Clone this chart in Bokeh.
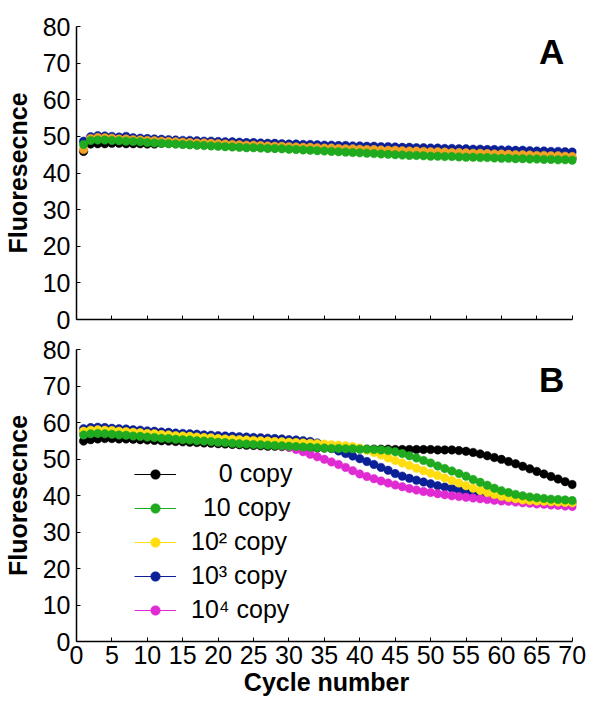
from bokeh.plotting import figure
from bokeh.models import Range1d, FixedTicker, Legend, LegendItem, Label
from bokeh.layouts import column
from bokeh.embed import file_html
from bokeh.resources import INLINE

# ---------------- data ----------------
cycles = list(range(1, 71))
x_ticks = [0, 5, 10, 15, 20, 25, 30, 35, 40, 45, 50, 55, 60, 65, 70]
y_ticks = [0, 10, 20, 30, 40, 50, 60, 70, 80]

# Panel A
a_black = [45.9, 47.9, 48.0, 48.0, 48.1, 48.1, 48.0, 48.0, 48.0, 47.9,
           47.9, 48.1, 48.1, 48.0, 47.9, 47.8, 47.7, 47.7, 47.6, 47.5,
           47.4, 47.3, 47.2, 47.1, 47.1, 47.0, 46.9, 46.8, 46.8, 46.7,
           46.6, 46.5, 46.5, 46.4, 46.3, 46.3, 46.2, 46.1, 46.1, 46.0,
           45.9, 45.9, 45.8, 45.7, 45.7, 45.6, 45.5, 45.5, 45.4, 45.3,
           45.3, 45.2, 45.1, 45.1, 45.0, 44.9, 44.9, 44.8, 44.7, 44.7,
           44.6, 44.5, 44.5, 44.4, 44.3, 44.3, 44.2, 44.2, 44.1, 44.0]
a_blue = [48.7, 49.9, 50.2, 50.1, 50.0, 49.8, 50.0, 49.6, 49.5, 49.4,
          49.3, 49.2, 49.1, 49.0, 48.9, 48.9, 48.8, 48.7, 48.7, 48.6,
          48.5, 48.5, 48.4, 48.3, 48.3, 48.2, 48.1, 48.1, 48.0, 47.9,
          47.9, 47.8, 47.8, 47.7, 47.6, 47.6, 47.5, 47.5, 47.4, 47.4,
          47.3, 47.3, 47.2, 47.2, 47.1, 47.0, 47.0, 46.9, 46.9, 46.8,
          46.8, 46.7, 46.7, 46.6, 46.6, 46.5, 46.5, 46.4, 46.4, 46.3,
          46.3, 46.2, 46.2, 46.1, 46.0, 46.0, 45.9, 45.9, 45.8, 45.7]
a_orange = [46.4, 49.4, 49.7, 49.6, 49.5, 49.3, 49.3, 49.1, 49.0, 48.9,
            48.8, 48.7, 48.6, 48.5, 48.4, 48.3, 48.2, 48.2, 48.1, 48.0,
            47.9, 47.8, 47.7, 47.6, 47.6, 47.5, 47.4, 47.3, 47.3, 47.2,
            47.1, 47.0, 47.0, 46.9, 46.8, 46.8, 46.7, 46.6, 46.6, 46.5,
            46.4, 46.4, 46.3, 46.2, 46.2, 46.1, 46.0, 46.0, 45.9, 45.8,
            45.8, 45.7, 45.6, 45.6, 45.5, 45.4, 45.4, 45.3, 45.2, 45.2,
            45.1, 45.0, 45.0, 44.9, 44.8, 44.8, 44.7, 44.7, 44.6, 44.5]
a_green = [47.8, 48.9, 49.0, 49.0, 48.9, 48.8, 48.7, 48.6, 48.5, 48.3,
           48.2, 48.1, 48.0, 47.9, 47.8, 47.7, 47.6, 47.5, 47.4, 47.3,
           47.2, 47.1, 47.0, 46.9, 46.9, 46.8, 46.7, 46.7, 46.6, 46.5,
           46.4, 46.3, 46.2, 46.1, 46.0, 45.9, 45.8, 45.7, 45.6, 45.5,
           45.4, 45.3, 45.2, 45.1, 45.0, 44.9, 44.8, 44.8, 44.7, 44.6,
           44.6, 44.5, 44.5, 44.4, 44.3, 44.3, 44.2, 44.2, 44.1, 44.0,
           44.0, 43.9, 43.9, 43.8, 43.8, 43.7, 43.7, 43.6, 43.6, 43.5]

# Panel B
b_black = [54.9, 55.3, 55.5, 55.6, 55.6, 55.5, 55.5, 55.4, 55.3, 55.2,
           55.1, 55.0, 54.9, 54.8, 54.7, 54.6, 54.5, 54.4, 54.3, 54.2,
           54.1, 54.0, 53.9, 53.8, 53.7, 53.6, 53.5, 53.5, 53.4, 53.3,
           53.2, 53.2, 53.1, 53.0, 53.0, 52.9, 52.9, 52.8, 52.8, 52.8,
           52.7, 52.7, 52.7, 52.7, 52.6, 52.6, 52.6, 52.6, 52.6, 52.6,
           52.5, 52.5, 52.5, 52.3, 52.1, 51.8, 51.4, 50.9, 50.4, 49.9,
           49.3, 48.7, 48.0, 47.3, 46.6, 45.9, 45.2, 44.5, 43.8, 43.0]
b_green = [56.6, 56.9, 57.0, 56.9, 56.8, 56.6, 56.5, 56.3, 56.2, 56.0,
           55.9, 55.7, 55.6, 55.4, 55.3, 55.2, 55.0, 54.9, 54.8, 54.6,
           54.5, 54.3, 54.2, 54.1, 54.0, 53.9, 53.8, 53.7, 53.6, 53.5,
           53.4, 53.3, 53.2, 53.1, 53.0, 52.9, 52.9, 52.8, 52.8, 52.7,
           52.7, 52.6, 52.5, 52.3, 52.0, 51.5, 50.9, 50.3, 49.6, 48.9,
           48.1, 47.4, 46.7, 46.0, 45.3, 44.4, 43.6, 42.8, 42.0, 41.3,
           40.8, 40.3, 39.9, 39.6, 39.4, 39.2, 39.0, 38.9, 38.8, 38.6]
b_yellow = [57.6, 57.9, 58.0, 57.9, 57.8, 57.6, 57.5, 57.3, 57.2, 57.0,
            56.9, 56.7, 56.6, 56.4, 56.3, 56.2, 56.0, 55.9, 55.8, 55.6,
            55.5, 55.4, 55.3, 55.2, 55.1, 55.0, 54.9, 54.8, 54.7, 54.6,
            54.5, 54.4, 54.3, 54.2, 54.1, 53.9, 53.8, 53.6, 53.4, 53.0,
            52.4, 51.8, 51.1, 50.3, 49.6, 48.9, 48.2, 47.5, 46.8, 46.1,
            45.5, 44.8, 44.1, 43.4, 42.7, 42.0, 41.4, 40.8, 40.3, 39.8,
            39.4, 39.1, 38.8, 38.6, 38.5, 38.4, 38.3, 38.2, 38.1, 38.0]
b_blue = [58.3, 58.6, 58.7, 58.6, 58.4, 58.3, 58.2, 58.0, 57.9, 57.7,
          57.6, 57.4, 57.3, 57.1, 57.0, 56.9, 56.8, 56.6, 56.5, 56.4,
          56.3, 56.2, 56.1, 56.0, 55.9, 55.8, 55.7, 55.6, 55.5, 55.3,
          55.2, 55.0, 54.8, 54.4, 53.8, 53.0, 52.2, 51.5, 50.8, 50.1,
          49.3, 48.5, 47.7, 46.9, 46.0, 45.3, 44.7, 44.2, 43.7, 43.2,
          42.7, 42.3, 41.9, 41.5, 41.0, 40.6, 40.3, 40.0, 39.7, 39.5,
          39.3, 39.1, 38.9, 38.8, 38.6, 38.5, 38.4, 38.3, 38.2, 38.1]
b_pink = [57.3, 57.6, 57.7, 57.6, 57.5, 57.3, 57.2, 57.0, 56.9, 56.7,
          56.6, 56.4, 56.3, 56.1, 56.0, 55.9, 55.7, 55.6, 55.5, 55.3,
          55.2, 55.1, 55.0, 54.9, 54.7, 54.5, 54.2, 53.9, 53.6, 53.2,
          52.6, 52.0, 51.3, 50.6, 49.9, 49.2, 48.5, 47.7, 46.8, 45.9,
          45.2, 44.6, 44.0, 43.4, 42.9, 42.4, 41.9, 41.5, 41.1, 40.8,
          40.5, 40.2, 39.9, 39.7, 39.5, 39.3, 39.1, 38.9, 38.7, 38.5,
          38.4, 38.2, 38.0, 37.9, 37.7, 37.6, 37.4, 37.3, 37.1, 37.0]

# right-aligned legend labels (padded with typographic spaces)
legend_labels = ["\u2007\u2008 0 copy", "\u2008\u200910 copy",
                 "10\u00b2 copy", "10\u00b3 copy", "10\u2074 copy"]

# ---------------- style ----------------
FONT = "Liberation Sans"
C_BLACK = "#000000"
C_GREEN = "#1faa1f"
C_YELLOW = "#ffdd10"
C_ORANGE = "#f2a323"
C_BLUE = "#0b1f96"
C_PINK = "#e02ad2"
DOT = 8.5
TICK_FS = "25px"


def make_fig(frame_h, top, bottom, show_x_labels):
    p = figure(frame_width=500, frame_height=frame_h,
               x_range=Range1d(0, 70.6), y_range=Range1d(0, 80),
               output_backend="svg", toolbar_location=None,
               min_border_left=71, min_border_right=12,
               min_border_top=top, min_border_bottom=bottom)
    p.outline_line_color = None
    p.grid.visible = False
    p.background_fill_color = "white"
    p.border_fill_color = "white"
    for ax in (p.xaxis[0], p.yaxis[0]):
        ax.axis_line_color = "black"
        ax.axis_line_width = 1.5
        ax.major_tick_in = 4
        ax.major_tick_out = 0
        ax.major_tick_line_color = "black"
        ax.minor_tick_line_color = None
        ax.major_label_text_font = FONT
        ax.major_label_text_font_size = TICK_FS
        ax.major_label_text_color = "black"
        ax.axis_label_text_font = FONT
        ax.axis_label_text_font_size = "25px"
        ax.axis_label_text_font_style = "bold"
        ax.axis_label_text_color = "black"
        ax.major_label_standoff = 6
    p.xaxis.ticker = FixedTicker(ticks=x_ticks)
    p.xaxis.bounds = (0, 70)
    p.yaxis.ticker = FixedTicker(ticks=y_ticks)
    p.yaxis.axis_label = "Fluoresecnce"
    p.yaxis.axis_label_standoff = 8
    if show_x_labels:
        p.xaxis.axis_label = "Cycle number"
        p.xaxis.axis_label_standoff = 1
        p.xaxis.major_label_standoff = 4
    else:
        p.xaxis.major_label_overrides = {t: "" for t in x_ticks}
        p.xaxis.major_label_standoff = 0
    return p


# ---------------- panel A ----------------
pA = make_fig(293, 26, 16, False)
for ys, col in [(a_black, C_BLACK), (a_blue, C_BLUE), (a_orange, C_ORANGE), (a_green, C_GREEN)]:
    pA.scatter(cycles, ys, size=DOT, fill_color=col, line_color=col, line_width=0.5)
pA.add_layout(Label(x=65.3, y=73.2, text="A", text_font=FONT, text_font_size="35px",
                    text_font_style="bold", text_color="black", text_baseline="alphabetic"))

# ---------------- panel B ----------------
pB = make_fig(292, 14, 55, True)
series_B = {
    "black": (b_black, C_BLACK),
    "blue": (b_blue, C_BLUE),
    "pink": (b_pink, C_PINK),
    "yellow": (b_yellow, C_YELLOW),
    "green": (b_green, C_GREEN),
}
lines = {}
for k, (ys, col) in series_B.items():
    lines[k] = pB.line(cycles, ys, line_color=col, line_width=1.2)
dots = {}
for k, (ys, col) in series_B.items():
    dots[k] = pB.scatter(cycles, ys, size=DOT, fill_color=col, line_color=col, line_width=0.5)

order = ["black", "green", "yellow", "blue", "pink"]
items = [LegendItem(label=lab, renderers=[lines[k], dots[k]])
         for lab, k in zip(legend_labels, order)]
legend = Legend(items=items, location=(58, 17), border_line_color=None,
                background_fill_alpha=0, glyph_width=42, glyph_height=24,
                label_height=24, spacing=5, label_standoff=15, padding=0, margin=0,
                label_text_font=FONT, label_text_font_size="25px",
                label_text_color="black")
pB.add_layout(legend)
pB.add_layout(Label(x=65.3, y=71.8, text="B", text_font=FONT, text_font_size="35px",
                    text_font_style="bold", text_color="black", text_baseline="alphabetic"))

layout = column(pA, pB, spacing=0)
open("out.html", "w").write(file_html(layout, INLINE))
